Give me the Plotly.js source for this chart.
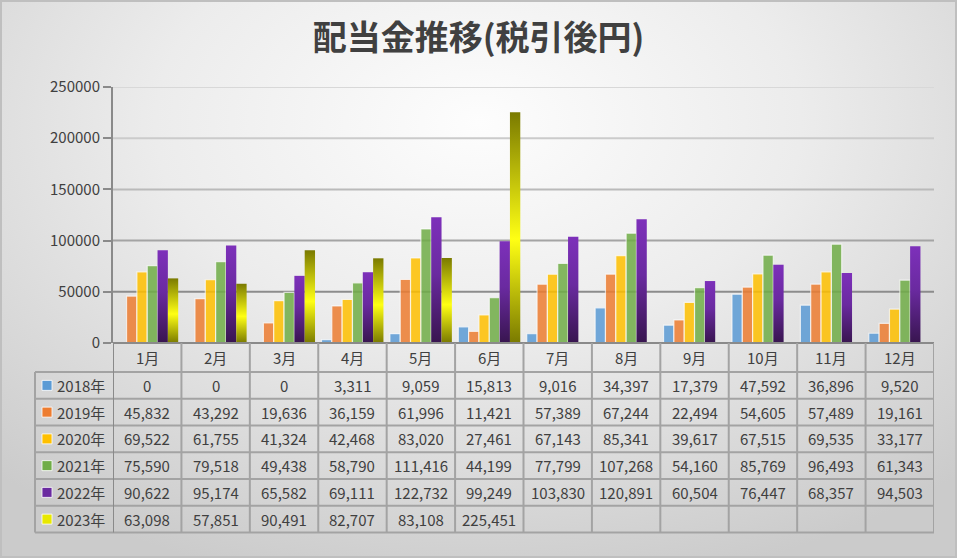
<!DOCTYPE html>
<html>
<head>
<meta charset="utf-8">
<script src="https://cdn.plot.ly/plotly-3.0.1.min.js"></script>
<style>
  html, body { margin: 0; padding: 0; }
  #chart {
    width: 957px;
    height: 558px;
    background: radial-gradient(ellipse 75% 85% at 50% 22%, #fdfdfd 0%, #ececec 45%, #cbcbcb 100%);
    box-shadow: inset 0 0 0 2px #bfbfbf;
  }
</style>
</head>
<body>
<div id="chart"></div>
<script>
const months = ["1月", "2月", "3月", "4月", "5月", "6月", "7月", "8月", "9月", "10月", "11月", "12月"];
const seriesNames = ["2018年", "2019年", "2020年", "2021年", "2022年", "2023年"];

const y2018 = [0, 0, 0, 3311, 9059, 15813, 9016, 34397, 17379, 47592, 36896, 9520];
const y2019 = [45832, 43292, 19636, 36159, 61996, 11421, 57389, 67244, 22494, 54605, 57489, 19161];
const y2020 = [69522, 61755, 41324, 42468, 83020, 27461, 67143, 85341, 39617, 67515, 69535, 33177];
const y2021 = [75590, 79518, 49438, 58790, 111416, 44199, 77799, 107268, 54160, 85769, 96493, 61343];
const y2022 = [90622, 95174, 65582, 69111, 122732, 99249, 103830, 120891, 60504, 76447, 68357, 94503];
const y2023 = [63098, 57851, 90491, 82707, 83108, 225451, null, null, null, null, null, null];

const yTicks = [0, 50000, 100000, 150000, 200000, 250000];

const allSeries = [y2018, y2019, y2020, y2021, y2022, y2023];
const colors = ["#5B9BD5", "#ED7D31", "#FFC000", "#70AD47", "#6A2AA0", "#E8E800"];
const gridColors = ["#8c8c8c", "#a4a4a4", "#bababa", "#cbcbcb", "#d8d8d8"];

// plot area in pixels
const L = 113, T = 87, W = 821, H = 256;
const px2x = (px) => (px - L) / W;
const py2y = (py) => (T + H - py) / H;

const headTop = 343, headBot = 372, rowH = 26.75;
const tableLeft = 35;
const tableBot = headBot + rowH * seriesNames.length;
const lineCol = "#a3a3a3";
const textCol = "#404040";
const font = "Noto Sans CJK JP, Noto Sans, sans-serif";

const traces = allSeries.map((vals, i) => ({
  type: "bar",
  name: seriesNames[i],
  x: months,
  y: vals,
  marker: {
    color: colors[i],
    opacity: i < 4 ? 0.85 : 1,
    line: { color: i < 4 ? "rgba(255,255,255,0.75)" : "rgba(0,0,0,0)", width: i < 4 ? 1.2 : 0 },
  },
  hoverinfo: "x+y+name",
}));

const shapes = [];
const annotations = [];

// gridlines, getting darker toward the bottom
yTicks.slice(1).forEach((v, i) => {
  shapes.push({
    type: "line", layer: "below", xref: "paper", yref: "y",
    x0: 0, x1: 1, y0: v, y1: v,
    line: { color: gridColors[i], width: 2 },
  });
});

// table horizontal lines
shapes.push({
  type: "line", xref: "paper", yref: "paper",
  x0: 0, x1: 1, y0: py2y(headTop), y1: py2y(headTop),
  line: { color: "#8a8a8a", width: 2 },
});
for (let r = 0; r <= seriesNames.length; r++) {
  const py = headBot + r * rowH;
  shapes.push({
    type: "line", xref: "paper", yref: "paper",
    x0: px2x(tableLeft), x1: 1, y0: py2y(py), y1: py2y(py),
    line: { color: lineCol, width: 2 },
  });
}
// table vertical lines
shapes.push({
  type: "line", xref: "paper", yref: "paper",
  x0: px2x(tableLeft), x1: px2x(tableLeft), y0: py2y(headBot), y1: py2y(tableBot),
  line: { color: lineCol, width: 2 },
});
for (let c = 0; c <= months.length; c++) {
  shapes.push({
    type: "line", xref: "x", yref: "paper",
    x0: c - 0.5, x1: c - 0.5, y0: py2y(headTop), y1: py2y(tableBot),
    line: { color: c === 0 ? "#8a8a8a" : lineCol, width: 2 },
  });
}

// header row with months
months.forEach((m) => {
  annotations.push({
    xref: "x", yref: "paper", x: m, y: py2y((headTop + headBot) / 2),
    text: m, showarrow: false, xanchor: "center", yanchor: "middle",
    font: { family: font, size: 15, color: textCol },
  });
});

// rows: legend key, name, values
seriesNames.forEach((name, r) => {
  const midPy = headBot + (r + 0.5) * rowH;
  shapes.push({
    type: "rect", xref: "paper", yref: "paper",
    x0: px2x(42), x1: px2x(52), y0: py2y(midPy - 5), y1: py2y(midPy + 5),
    fillcolor: colors[r], line: { color: "rgba(255,255,255,0.8)", width: 1 },
  });
  annotations.push({
    xref: "paper", yref: "paper", x: px2x(55), y: py2y(midPy),
    text: name, showarrow: false, xanchor: "left", yanchor: "middle",
    font: { family: font, size: 15, color: textCol },
  });
  allSeries[r].forEach((v, c) => {
    if (v === null) return;
    annotations.push({
      xref: "x", yref: "paper", x: months[c], y: py2y(midPy),
      text: v.toLocaleString("en-US"), showarrow: false, xanchor: "center", yanchor: "middle",
      font: { family: font, size: 15, color: textCol },
    });
  });
});

const layout = {
  width: 957,
  height: 558,
  margin: { l: L, r: 957 - L - W, t: T, b: 558 - T - H, pad: 0 },
  paper_bgcolor: "rgba(0,0,0,0)",
  plot_bgcolor: "rgba(0,0,0,0)",
  title: {
    text: "配当金推移(税引後円)",
    font: { family: font, size: 34, color: textCol, weight: "bold" },
    x: 0.5, xanchor: "center",
    y: 1 - 38 / 558, yanchor: "middle", yref: "container",
  },
  barmode: "group",
  bargap: 0.094,
  bargroupgap: 0,
  showlegend: false,
  xaxis: {
    type: "category",
    range: [-0.5, 11.5],
    showticklabels: false,
    ticks: "",
    showgrid: false,
    zeroline: false,
    showline: false,
    fixedrange: true,
  },
  yaxis: {
    range: [0, 250000],
    tickvals: yTicks,
    ticktext: yTicks.map(String),
    ticks: "outside",
    ticklen: 8,
    tickwidth: 2,
    tickcolor: "#8a8a8a",
    showline: true,
    linecolor: "#8a8a8a",
    linewidth: 2,
    showgrid: false,
    zeroline: false,
    tickfont: { family: font, size: 15, color: textCol },
    fixedrange: true,
  },
  shapes: shapes,
  annotations: annotations,
};

Plotly.newPlot("chart", traces, layout, { displayModeBar: false, staticPlot: true }).then((gd) => {
  // vertical gradients for the 2022 and 2023 bars, as in the original
  const svg = gd.querySelector(".main-svg");
  const defs = svg.querySelector("defs");
  const ns = "http://www.w3.org/2000/svg";
  const addGrad = (id, stops) => {
    const g = document.createElementNS(ns, "linearGradient");
    g.setAttribute("id", id);
    g.setAttribute("x1", "0"); g.setAttribute("y1", "0");
    g.setAttribute("x2", "0"); g.setAttribute("y2", "1");
    stops.forEach(([off, col]) => {
      const s = document.createElementNS(ns, "stop");
      s.setAttribute("offset", off);
      s.setAttribute("stop-color", col);
      g.appendChild(s);
    });
    defs.appendChild(g);
  };
  addGrad("grad2022", [["0", "#7D30BA"], ["0.45", "#6A2AA0"], ["1", "#38154F"]]);
  addGrad("grad2023", [["0", "#7A7A00"], ["0.55", "#FFFF14"], ["1", "#7A7A00"]]);

  const barTraces = gd.querySelectorAll(".barlayer .trace");
  [[4, "grad2022"], [5, "grad2023"]].forEach(([i, id]) => {
    if (!barTraces[i]) return;
    barTraces[i].querySelectorAll("path").forEach((p) => {
      p.style.fill = "url(#" + id + ")";
    });
  });
});
</script>
</body>
</html>
